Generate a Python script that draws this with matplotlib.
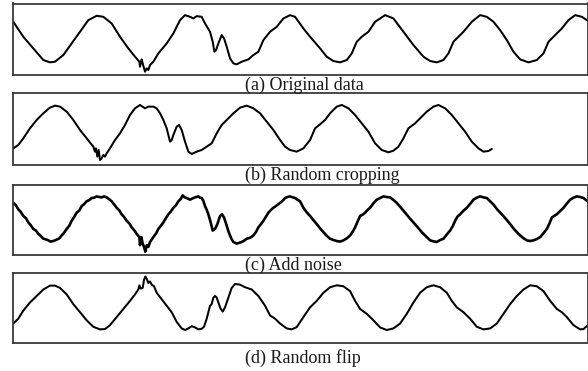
import matplotlib
matplotlib.use("Agg")
import matplotlib.pyplot as plt

# ---- data: (time index, amplitude) pairs ----
orig_points = [(0, 51), (30, 6), (60, -29), (90, -64), (110, -71), (125, -69), (150, -49), (175, -14), (200, 21),
               (225, 56), (250, 69), (270, 66), (295, 46), (320, 6), (345, -29), (365, -54), (378, -69), (380, -84),
               (385, -62), (388, -74), (395, -99), (400, -89), (405, -94), (410, -79), (420, -69), (435, -44),
               (460, -14), (480, 16), (500, 56), (515, 71), (530, 66), (540, 61), (550, 68), (565, 66), (575, 46),
               (590, 21), (598, -9), (603, -39), (608, -34), (615, -14), (625, 11), (632, 1), (640, -24), (650, -59),
               (660, -74), (670, -77), (685, -69), (705, -62), (720, -49), (735, -39), (750, -4), (770, 21), (790, 36),
               (810, 61), (830, 71), (845, 66), (870, 31), (890, 6), (920, -29), (940, -54), (960, -67), (980, -71),
               (1000, -64), (1015, -44), (1030, -9), (1045, 6), (1065, 21), (1085, 51), (1115, 71), (1140, 61),
               (1170, 21), (1200, -19), (1230, -54), (1250, -67), (1270, -71), (1290, -64), (1305, -44), (1320, -9),
               (1335, 6), (1350, 21), (1375, 51), (1400, 71), (1420, 66), (1440, 51), (1460, 26), (1480, -4),
               (1500, -39), (1520, -62), (1545, -71), (1570, -64), (1590, -44), (1605, -9), (1625, 11), (1645, 31),
               (1665, 56), (1685, 71), (1705, 66), (1720, 56)]

crop_points = [(0, -59), (15, -49), (30, -29), (50, 1), (70, 26), (90, 46), (110, 63), (125, 69), (140, 66),
               (160, 51), (180, 26), (200, -4), (220, -29), (240, -54), (245, -69), (248, -59), (252, -84), (256, -64),
               (260, -94), (265, -89), (270, -79), (275, -84), (280, -74), (290, -59), (305, -34), (320, -14),
               (335, 11), (350, 41), (365, 61), (380, 71), (395, 61), (405, 66), (420, 66), (430, 61), (440, 46),
               (450, 26), (460, 1), (465, -19), (470, -39), (475, -34), (480, -19), (490, 6), (497, 11), (505, -4),
               (515, -39), (525, -69), (535, -76), (550, -69), (565, -64), (580, -54), (595, -44), (610, -14),
               (625, 11), (640, 26), (660, 46), (680, 63), (700, 69), (720, 61), (740, 46), (760, 21), (780, -4),
               (800, -34), (815, -54), (830, -64), (850, -69), (870, -59), (890, -34), (905, 1), (920, 13), (935, 26),
               (950, 46), (970, 66), (985, 71), (1005, 61), (1025, 41), (1045, 16), (1065, -9), (1085, -44),
               (1105, -64), (1125, -71), (1140, -66), (1155, -54), (1170, -29), (1185, 1), (1205, 16), (1220, 31),
               (1240, 51), (1260, 66), (1275, 71), (1295, 61), (1315, 41), (1335, 16), (1355, -9), (1375, -39),
               (1395, -59), (1410, -69), (1425, -67), (1435, -61)]

noise_points = [(0, 51), (8, 44), (15, 31), (22, 24), (30, 11), (38, 4), (45, -9), (52, -17), (60, -29), (68, -34),
                (75, -44), (82, -50), (90, -59), (98, -61), (105, -64), (112, -68), (120, -66), (130, -62),
                (138, -58), (145, -49), (152, -41), (160, -29), (168, -19), (175, -4), (182, 7), (190, 21), (198, 28),
                (205, 41), (212, 47), (220, 56), (228, 60), (235, 66), (242, 67), (250, 71), (258, 69), (265, 68),
                (272, 71), (280, 68), (288, 62), (295, 56), (302, 47), (310, 36), (318, 28), (325, 16), (332, 8),
                (340, -4), (348, -12), (355, -24), (362, -32), (370, -44), (378, -54), (380, -79), (384, -54),
                (388, -74), (392, -84), (396, -99), (400, -79), (405, -84), (410, -69), (420, -54), (428, -43),
                (435, -29), (442, -20), (450, -9), (458, 5), (465, 16), (472, 24), (480, 36), (488, 44), (495, 56),
                (502, 63), (508, 74), (514, 68), (520, 66), (530, 61), (540, 66), (548, 69), (555, 71), (560, 67),
                (565, 66), (570, 57), (575, 41), (580, 30), (585, 16), (592, -9), (598, -34), (605, -29), (612, -14),
                (620, 11), (626, 16), (632, 6), (640, -19), (645, -36), (650, -49), (655, -61), (660, -69),
                (670, -74), (685, -69), (692, -65), (700, -59), (710, -56), (720, -49), (728, -38), (735, -24),
                (742, -15), (750, -4), (758, 9), (765, 21), (772, 29), (780, 36), (790, 43), (800, 51), (808, 58),
                (815, 66), (822, 69), (830, 71), (838, 68), (845, 66), (852, 61), (860, 56), (870, 36), (880, 22),
                (890, 11), (900, -2), (910, -14), (920, -27), (930, -39), (940, -50), (950, -59), (960, -63),
                (970, -66), (980, -68), (990, -64), (1000, -58), (1010, -49), (1018, -37), (1025, -24), (1032, -8),
                (1040, 11), (1048, 15), (1055, 21), (1062, 29), (1070, 36), (1080, 50), (1090, 61), (1100, 66),
                (1110, 71), (1120, 69), (1130, 68), (1140, 60), (1150, 51), (1162, 37), (1175, 21), (1188, 5),
                (1200, -9), (1212, -23), (1225, -39), (1238, -52), (1250, -64), (1260, -67), (1270, -69), (1280, -63),
                (1290, -59), (1300, -46), (1310, -34), (1318, -20), (1325, -4), (1332, 9), (1340, 16), (1350, 27),
                (1360, 36), (1370, 48), (1380, 61), (1390, 67), (1400, 71), (1410, 68), (1420, 66), (1430, 56),
                (1440, 46), (1452, 30), (1465, 16), (1478, 1), (1490, -14), (1502, -30), (1515, -44), (1528, -56),
                (1540, -64), (1550, -66), (1560, -64), (1570, -60), (1580, -54), (1590, -42), (1600, -29),
                (1608, -12), (1615, 6), (1622, 11), (1630, 16), (1640, 26), (1650, 36), (1660, 49), (1670, 61),
                (1680, 67), (1690, 71), (1700, 69), (1710, 66), (1716, 61), (1723, 56)]

flip_points = [(0, -49), (15, -34), (30, -9), (50, 16), (70, 36), (90, 56), (110, 68), (125, 68), (140, 61),
               (160, 41), (180, 11), (200, -14), (220, -39), (240, -59), (260, -67), (275, -66), (290, -54),
               (310, -29), (330, -4), (350, 21), (365, 41), (375, 56), (378, 69), (382, 59), (388, 61), (392, 86),
               (396, 96), (400, 89), (405, 76), (410, 81), (415, 71), (422, 66), (430, 46), (445, 26), (460, 6),
               (475, -14), (490, -44), (505, -64), (515, -69), (525, -64), (535, -57), (545, -61), (555, -67),
               (565, -65), (572, -59), (580, -34), (590, 6), (595, 11), (600, 31), (605, 36), (610, 31), (615, 16),
               (622, -4), (628, -12), (635, 1), (645, 31), (655, 61), (665, 73), (680, 71), (695, 63), (715, 56),
               (735, 36), (755, 6), (770, -24), (785, -34), (800, -49), (820, -64), (835, -67), (850, -60),
               (870, -29), (890, 1), (910, 21), (930, 46), (950, 63), (970, 69), (990, 66), (1010, 51), (1025, 21),
               (1040, -4), (1060, -19), (1080, -39), (1100, -61), (1120, -69), (1140, -64), (1160, -49), (1180, -19),
               (1200, 16), (1220, 46), (1240, 63), (1260, 69), (1280, 63), (1300, 46), (1315, 21), (1330, 1),
               (1350, -14), (1370, -34), (1390, -59), (1410, -67), (1430, -64), (1450, -49), (1470, -19), (1490, 11),
               (1510, 36), (1530, 56), (1550, 69), (1570, 66), (1590, 51), (1610, 21), (1630, -4), (1645, -14),
               (1660, -29), (1680, -54), (1700, -67), (1710, -66), (1723, -54)]

captions = ["(a) Original data", "(b) Random cropping", "(c) Add noise", "(d) Random flip"]
series = [orig_points, crop_points, noise_points, flip_points]
line_widths = [1.45, 1.45, 1.9, 1.45]

# ---- layout (pixels of the 588x371 picture) ----
W, H = 588, 371
boxes = [(3.5, 75.0), (93.3, 165.0), (185.0, 255.0), (273.3, 343.0)]
caption_y = [85, 175, 265, 358]
left_px, right_px = 13.3, 587.5

fig = plt.figure(figsize=(W / 100, H / 100), dpi=100)
fig.patch.set_facecolor("white")

for (top, bot), pts, cap, cy, lw in zip(boxes, series, captions, caption_y, line_widths):
    t = [p[0] for p in pts]
    v = [p[1] for p in pts]
    ax = fig.add_axes([left_px / W, 1 - bot / H, (right_px - left_px) / W, (bot - top) / H])
    ax.plot(t, v, color="black", lw=lw, solid_joinstyle="round", solid_capstyle="round")
    ax.set_xlim(0, 1722)
    ax.set_ylim(-109, 106)
    ax.set_xticks([])
    ax.set_yticks([])
    for s in ax.spines.values():
        s.set_color("#3a3a3a")
        s.set_linewidth(1.3)
    fig.text(245 / W, 1 - cy / H, cap, ha="left", va="center",
             family=["Liberation Serif", "DejaVu Serif"], fontsize=13, color="#1a1a1a")

fig.savefig("out.png", dpi=100, facecolor="white")
